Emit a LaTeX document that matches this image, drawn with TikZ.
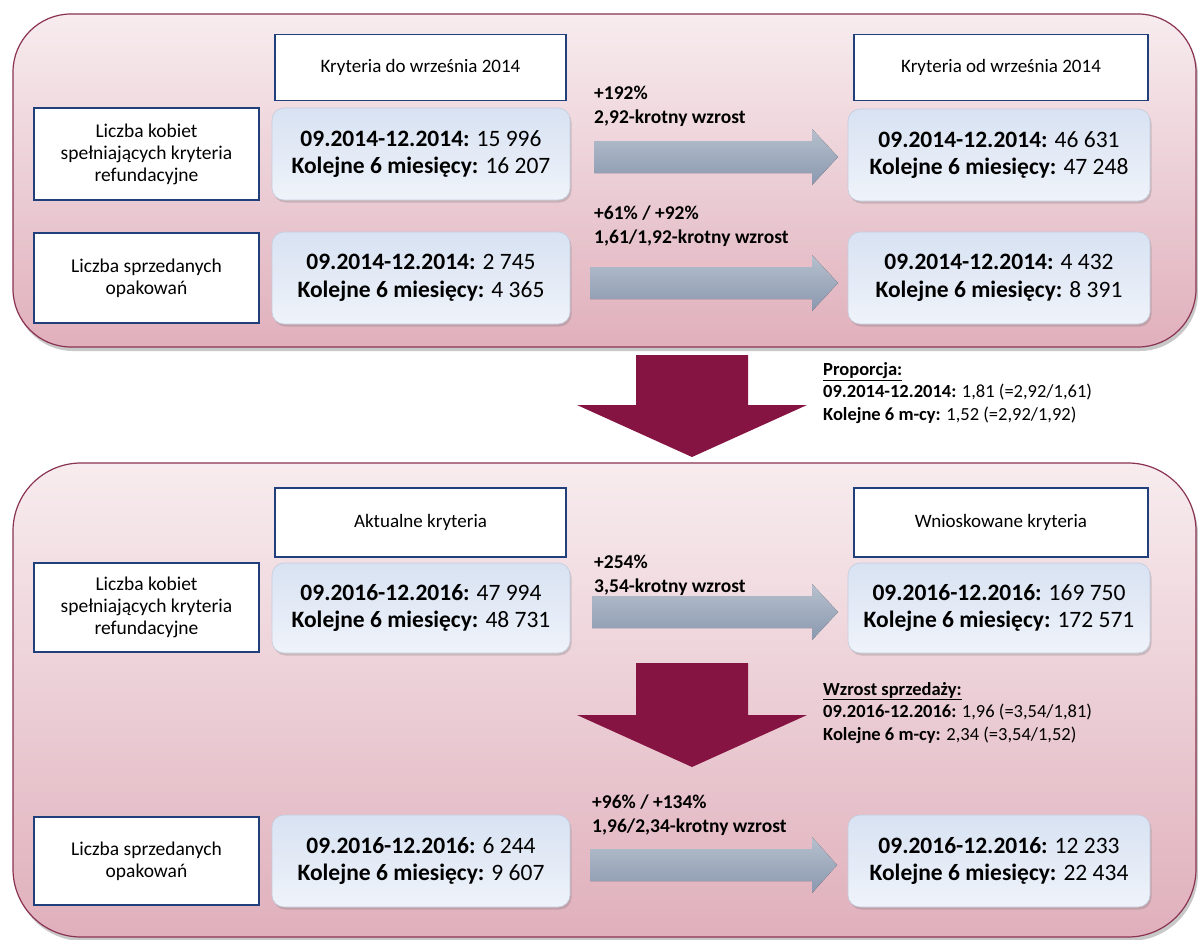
\documentclass[tikz,border=0pt]{standalone}
\usepackage{fontspec}
\setmainfont{Carlito}
\usetikzlibrary{shadows,calc}
\definecolor{panelborder}{HTML}{8A3352}
\definecolor{paneltop}{HTML}{F7ECEF}
\definecolor{panelbot}{HTML}{E0B0BC}
\definecolor{hdrborder}{HTML}{213F7A}
\definecolor{bluetop}{HTML}{D8E2F2}
\definecolor{bluebot}{HTML}{EFF3FA}
\definecolor{blueedge}{HTML}{C2CCDD}
\definecolor{arrtop}{HTML}{C8D3E2}
\definecolor{arrbot}{HTML}{97A7C0}
\definecolor{maroonarrow}{HTML}{861442}
\newcommand{\hblockarrow}[4]{% x0, xhead, xtip, yc
  \fill[top color=arrtop, bottom color=arrbot, opacity=.9]
    (#1,#4-16) -- (#2,#4-16) -- (#2,#4-28) -- (#3,#4) -- (#2,#4+28) -- (#2,#4+16) -- (#1,#4+16) -- cycle;}
\newcommand{\vblockarrow}[3]{% xc, ytop, yheadbase
  \fill[maroonarrow] (#1-56,#2) -- (#1+56,#2) -- (#1+56,#3) -- (#1+115,#3) -- (#1,#3+52) -- (#1-115,#3) -- (#1-56,#3) -- cycle;}
\begin{document}
\begin{tikzpicture}[x=1pt,y=-1pt,
  panel/.style={draw=panelborder, line width=1.2pt, top color=paneltop, bottom color=panelbot,
     drop shadow={shadow xshift=2pt, shadow yshift=-4pt, opacity=.3, fill=black!70}},
  whitebox/.style={draw=hdrborder, line width=1.6pt, fill=white, inner sep=2pt, align=center},
  hdrtext/.style={whitebox, font=\fontsize{19}{23}\selectfont, minimum width=291pt, minimum height=66pt},
  labelbox/.style={whitebox, font=\fontsize{19.5}{22}\selectfont, minimum width=225pt},
  bluebox/.style={draw=blueedge, line width=.6pt, rounded corners=12pt, top color=bluetop, bottom color=bluebot,
     minimum width=298pt, align=center, inner sep=2pt, font=\fontsize{23.5}{27.5}\selectfont,
     drop shadow={shadow xshift=1.5pt, shadow yshift=-2.5pt, opacity=.25, fill=black!60}},
  arrowtext/.style={anchor=north west, inner sep=0pt, align=left, font=\bfseries\fontsize{19.5}{23.5}\selectfont},
  notetext/.style={anchor=north west, inner sep=0pt, align=left, font=\fontsize{18.5}{22.5}\selectfont}
]
\useasboundingbox (0,0) rectangle (1198,939);
\fill[white] (0,0) rectangle (1198,939);

% panels
\path[panel, rounded corners=58pt] (13,14) rectangle (1196,347);
\path[panel, rounded corners=68pt] (13,463) rectangle (1196,937);

% ---- top panel ----
\node[hdrtext] (h1) at (420.5,67.5) {Kryteria do września 2014};
\node[hdrtext, minimum width=294pt] (h2) at (1001,67.5) {Kryteria od września 2014};

\node[labelbox, minimum height=92pt] (l1) at (146.5,154) {Liczba kobiet\\spełniających kryteria\\refundacyjne};
\node[bluebox, minimum height=92pt] (b1) at (421,154) {\textbf{09.2014-12.2014:} 15 996\\\textbf{Kolejne 6 miesięcy:} 16 207};
\node[bluebox, minimum width=302pt, minimum height=92pt] (c1) at (999,155) {\textbf{09.2014-12.2014:} 46 631\\\textbf{Kolejne 6 miesięcy:} 47 248};

\node[labelbox, minimum height=90pt] (l2) at (146.5,278) {Liczba sprzedanych\\opakowań};
\node[bluebox, minimum height=92pt] (b2) at (421,278) {\textbf{09.2014-12.2014:} 2 745\\\textbf{Kolejne 6 miesięcy:} 4 365};
\node[bluebox, minimum width=302pt, minimum height=92pt] (c2) at (999,278) {\textbf{09.2014-12.2014:} 4 432\\\textbf{Kolejne 6 miesięcy:} 8 391};

\hblockarrow{594}{812}{838}{157}
\hblockarrow{590}{812}{838}{283}
\node[arrowtext] (t1) at (594,86) {+192\%\\2,92-krotny wzrost};
\node[arrowtext] (t2) at (594,206) {+61\% / +92\%\\1,61/1,92-krotny wzrost};

% ---- big arrow 1 and note ----
\vblockarrow{692}{355}{405}
\node[notetext] (n1) at (823,362) {\textbf{\underline{Proporcja:}}\\\textbf{09.2014-12.2014:} 1,81 (=2,92/1,61)\\\textbf{Kolejne 6 m-cy:} 1,52 (=2,92/1,92)};

% ---- bottom panel ----
\node[hdrtext, minimum height=69pt] (h3) at (420.5,522.5) {Aktualne kryteria};
\node[hdrtext, minimum width=294pt, minimum height=69pt] (h4) at (1001,522.5) {Wnioskowane kryteria};

\node[labelbox, minimum height=89pt] (l3) at (146.5,607.5) {Liczba kobiet\\spełniających kryteria\\refundacyjne};
\node[bluebox, minimum height=90pt] (b3) at (421,608) {\textbf{09.2016-12.2016:} 47 994\\\textbf{Kolejne 6 miesięcy:} 48 731};
\node[bluebox, minimum width=302pt, minimum height=90pt] (c3) at (999,608) {\textbf{09.2016-12.2016:} 169 750\\\textbf{Kolejne 6 miesięcy:} 172 571};

\hblockarrow{592}{812}{838}{612}
\node[arrowtext] (t3) at (594,555) {+254\%\\3,54-krotny wzrost};

\vblockarrow{692}{663}{715}
\node[notetext] (n2) at (823,682) {\textbf{\underline{Wzrost sprzedaży:}}\\\textbf{09.2016-12.2016:} 1,96 (=3,54/1,81)\\\textbf{Kolejne 6 m-cy:} 2,34 (=3,54/1,52)};

\node[labelbox, minimum height=88pt] (l4) at (146.5,861) {Liczba sprzedanych\\opakowań};
\node[bluebox, minimum height=92pt] (b4) at (421,861) {\textbf{09.2016-12.2016:} 6 244\\\textbf{Kolejne 6 miesięcy:} 9 607};
\node[bluebox, minimum width=302pt, minimum height=92pt] (c4) at (999,861) {\textbf{09.2016-12.2016:} 12 233\\\textbf{Kolejne 6 miesięcy:} 22 434};

\hblockarrow{590}{812}{837}{865}
\node[arrowtext] (t4) at (592,795) {+96\% / +134\%\\1,96/2,34-krotny wzrost};
\end{tikzpicture}
\end{document}
